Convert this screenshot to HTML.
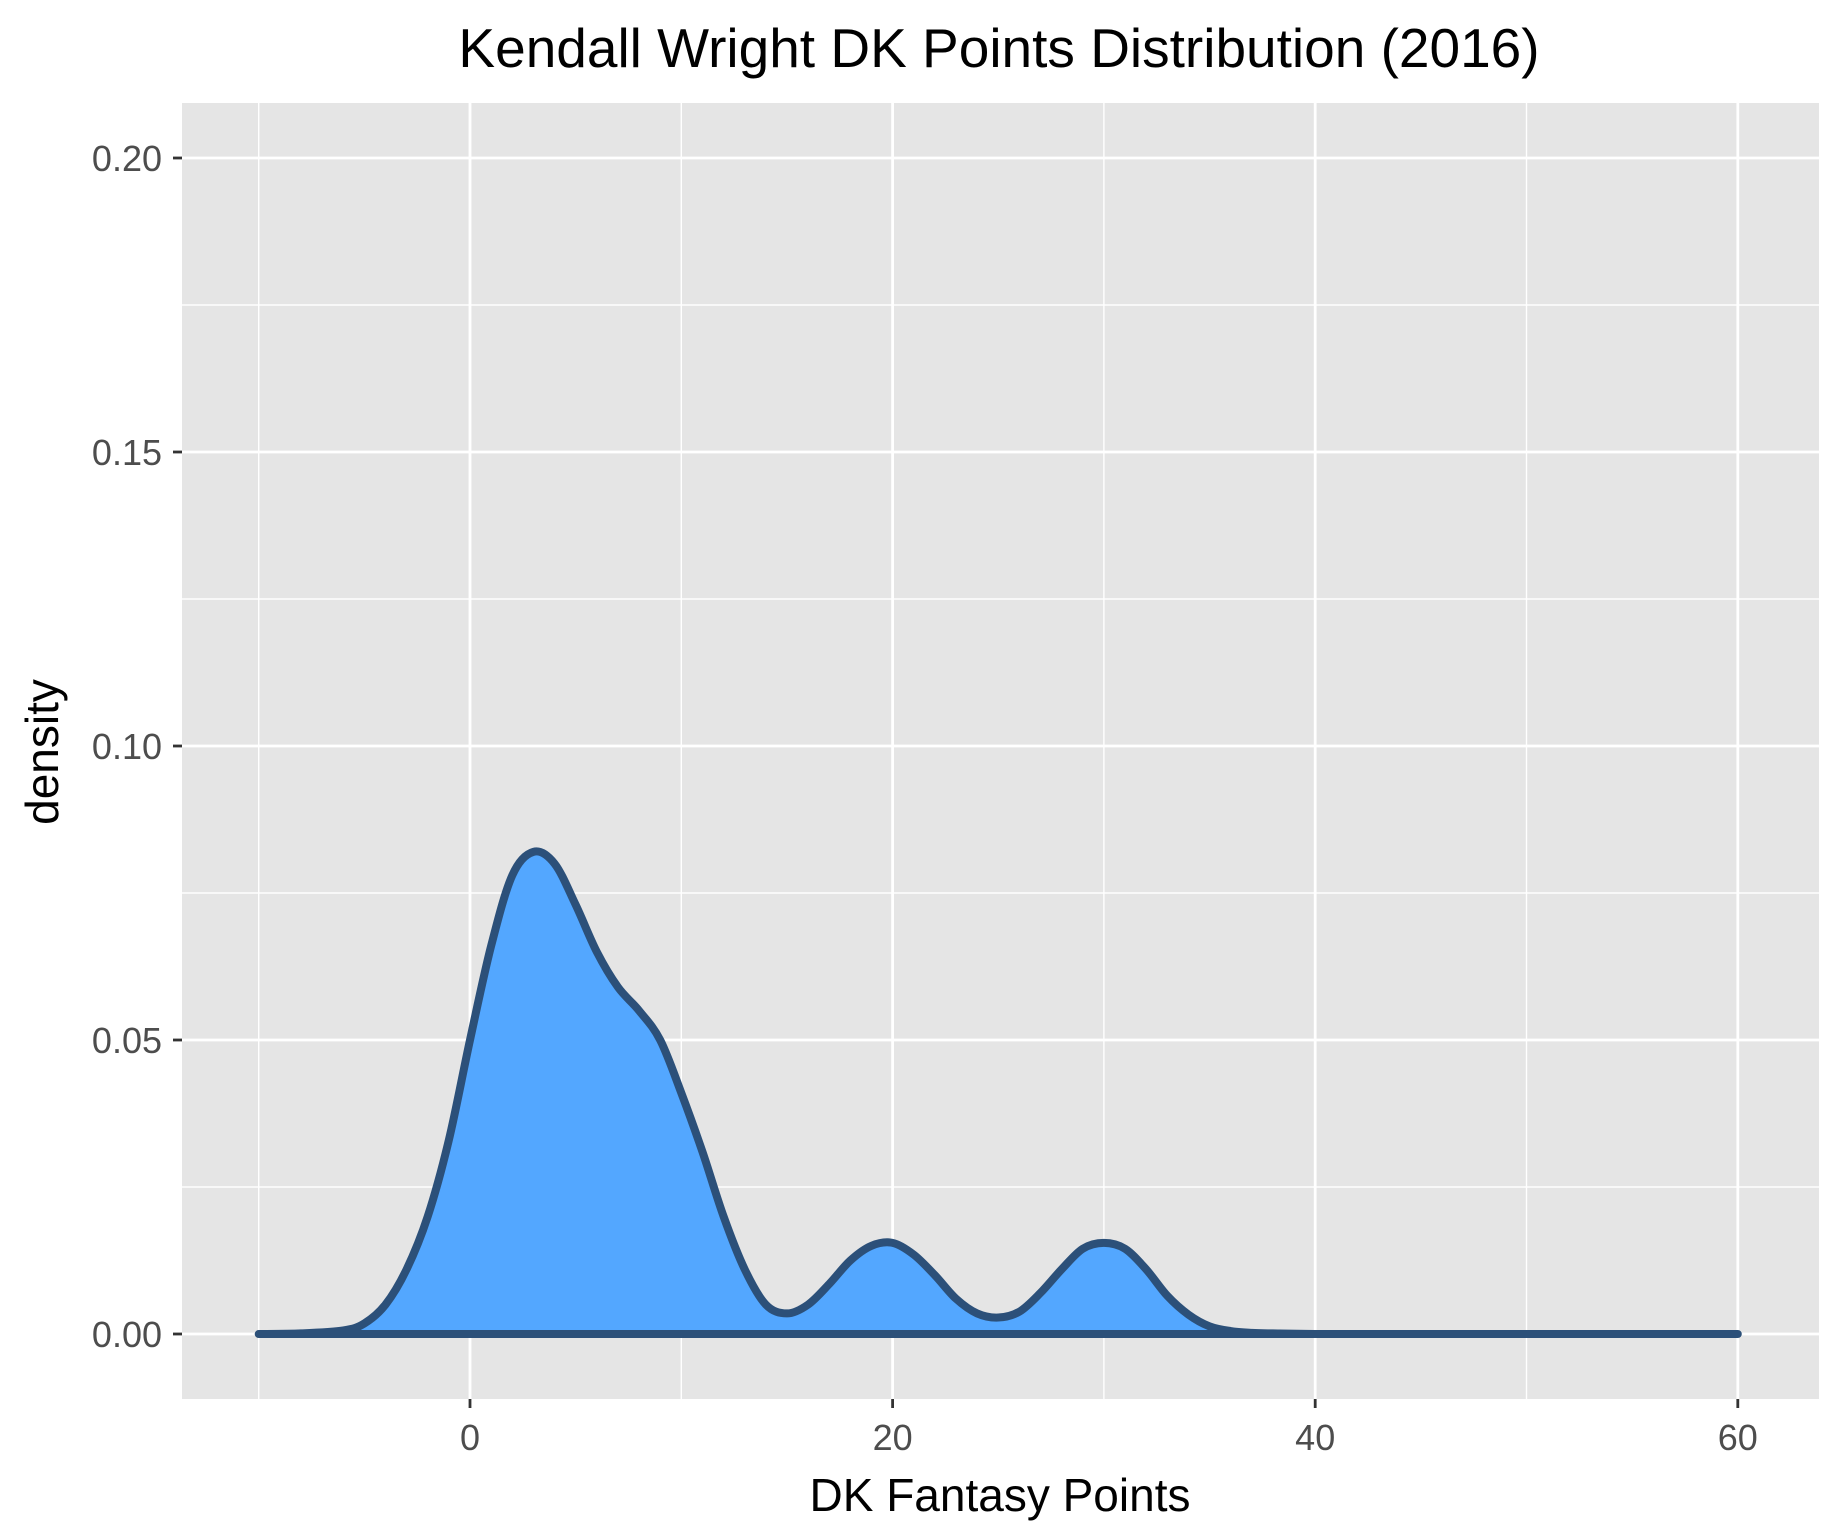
<!DOCTYPE html>
<html><head><meta charset="utf-8"><style>
body{margin:0;background:#fff;}
svg{display:block;font-family:"Liberation Sans",Arial,sans-serif;}
</style></head><body>
<svg id="chart" width="1833" height="1529" viewBox="0 0 1833 1529">
<rect x="182" y="103" width="1637" height="1296" fill="#e5e5e5"/>
<g id="grid"></g>
<g id="series"></g>
<g id="axes"></g>
<text x="999" y="67" font-size="55" text-anchor="middle" fill="#000">Kendall Wright DK Points Distribution (2016)</text>
<text x="1000" y="1511" font-size="46" text-anchor="middle" fill="#000">DK Fantasy Points</text>
<text transform="translate(58,752) rotate(-90)" font-size="46" text-anchor="middle" fill="#000">density</text>
</svg>
<script>
const xs = [-10,-8,-6,-5,-4,-3,-2,-1,0,1,2,3,4,5,6,7,8,9,10,11,12,13,14,15,16,17,18,19,20,21,22,23,24,25,26,27,28,29,30,31,32,33,34,35,36,37,38,40,45,50,55,60];
const ys = [0,0.0001,0.0006,0.0018,0.005,0.011,0.02,0.033,0.05,0.066,0.078,0.082,0.08,0.073,0.065,0.059,0.055,0.05,0.041,0.031,0.02,0.011,0.005,0.0035,0.005,0.0085,0.0125,0.015,0.0155,0.0135,0.01,0.006,0.0035,0.0028,0.0038,0.007,0.011,0.0145,0.0155,0.0145,0.011,0.0065,0.0033,0.0013,0.0005,0.0002,0.0001,0,0,0,0,0];
const xTicks = [0,20,40,60];
const xMinor = [-10,10,30,50];
const yTicks = [0,0.05,0.10,0.15,0.20];
const yTickLabels = ["0.00","0.05","0.10","0.15","0.20"];
const yMinor = [0.025,0.075,0.125,0.175];

const X = v => 470 + (v - 0) * 21.13;
const Y = v => 1334 - v * 5880;
const NS = "http://www.w3.org/2000/svg";
function mk(tag, attrs, parent){const e=document.createElementNS(NS,tag);for(const k in attrs)e.setAttribute(k,attrs[k]);parent.appendChild(e);return e;}
const grid=document.getElementById('grid'), axes=document.getElementById('axes'), series=document.getElementById('series');
xMinor.forEach(v=>{const l=mk('line',{x1:X(v),x2:X(v),y1:103,y2:1399,stroke:'#fff','stroke-width':1.4},grid);

});
yMinor.forEach(v=>{const l=mk('line',{x1:182,x2:1819,y1:Y(v),y2:Y(v),stroke:'#fff','stroke-width':1.4},grid);

});
xTicks.forEach(v=>{const l=mk('line',{x1:X(v),x2:X(v),y1:103,y2:1399,stroke:'#fff','stroke-width':2.8},grid);


const t=mk('line',{x1:X(v),x2:X(v),y1:1399,y2:1408,stroke:'#333','stroke-width':2.8},axes);


const tx=mk('text',{x:X(v),y:1450,'font-size':36,'text-anchor':'middle',fill:'#4d4d4d'},axes);tx.textContent=v;

});
yTicks.forEach((v,i)=>{const l=mk('line',{x1:182,x2:1819,y1:Y(v),y2:Y(v),stroke:'#fff','stroke-width':2.8},grid);


const t=mk('line',{x1:173,x2:182,y1:Y(v),y2:Y(v),stroke:'#333','stroke-width':2.8},axes);


const tx=mk('text',{x:162,y:Y(v)+13,'font-size':36,'text-anchor':'end',fill:'#4d4d4d'},axes);tx.textContent=yTickLabels[i];

});
const P=xs.map((x,i)=>[X(x),Y(ys[i])]);
let d='M'+P[0][0]+','+P[0][1];
for(let i=0;i<P.length-1;i++){const p0=P[Math.max(0,i-1)],p1=P[i],p2=P[i+1],p3=P[Math.min(P.length-1,i+2)];
const c1=[p1[0]+(p2[0]-p0[0])/6,p1[1]+(p2[1]-p0[1])/6],c2=[p2[0]-(p3[0]-p1[0])/6,p2[1]-(p3[1]-p1[1])/6];
d+=' C'+c1[0]+','+Math.min(c1[1],Y(0))+' '+c2[0]+','+Math.min(c2[1],Y(0))+' '+p2[0]+','+p2[1];}
d+=' Z';
const area=mk('path',{d:d,fill:'#53a7ff',stroke:'#2c5079','stroke-width':8,'stroke-linejoin':'round','stroke-linecap':'round'},series);


</script>
</body></html>
